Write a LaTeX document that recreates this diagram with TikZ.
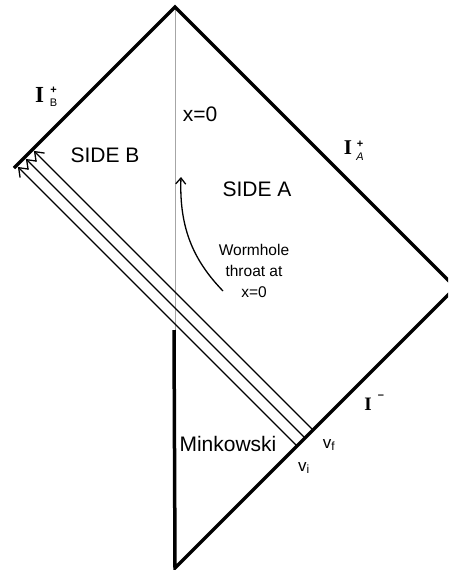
\documentclass[tikz,border=0pt]{standalone}
\usepackage{fontspec}
\setmainfont{Liberation Sans}
\newfontfamily\serifI{Liberation Serif}
\usetikzlibrary{arrows.meta}

\begin{document}
\begin{tikzpicture}[x=1pt, y=-1pt,
      bound/.style={line width=3.5pt, line join=miter},
      ray/.style={line width=1.3pt, shorten >=2pt, -{Straight Barb[length=8pt,width=12pt,line width=1.3pt]}},
      throatline/.style={gray!70, line width=1pt},
      lbl/.style={font=\fontsize{21}{24}\selectfont, inner sep=0pt},
      note/.style={font=\fontsize{15.5}{21}\selectfont, align=center, inner sep=0pt},
      scri/.style={font=\serifI\bfseries\fontsize{23}{23}\selectfont, inner sep=0pt},
      idx/.style={font=\fontsize{11}{13}\selectfont, align=center, inner sep=0pt},
    ]
    \clip (0,0) rectangle (448,570);
    % corners of the diagram
    \coordinate (top) at (175,7);
    \coordinate (left) at (14,168);
    \coordinate (right) at (455.5,287.5);
    \coordinate (bottom) at (175,568);
    \coordinate (mouth) at (174,330);
    \coordinate (throattop) at (175,7);
    \coordinate (throatend) at (175,330);
    % null rays: start on I^-, end on I^+_B
    \coordinate (vi) at (297,446);
    \coordinate (vm) at (305,438);
    \coordinate (vf) at (313,430);
    \coordinate (ei) at (16.5,165.5);
    \coordinate (em) at (24.5,157.5);
    \coordinate (ef) at (32.5,149.5);
    % boundary and throat
    \draw [throatline] (throattop) -- (throatend);
    \draw [bound] (left) -- (top) -- (right) -- (bottom) -- (mouth);
    \draw [ray] (vi) -- (ei);
    \draw [ray] (vm) -- (em);
    \draw [ray] (vf) -- (ef);
    % scri labels
    \node [scri] (ib) at (39.5,95) {I};
    \node [idx] (ibidx) at (53.5,97) {\textbf{+}\\B};
    \node [scri, font=\serifI\bfseries\fontsize{21}{21}\selectfont] (ia) at (348,147.5) {I};
    \node [idx] (iaidx) at (360,150.5) {\textbf{+}\\\textit{A}};
    \node [scri, font=\serifI\bfseries\fontsize{19}{19}\selectfont] (im) at (368,404.5) {I};
    \node [idx] (imsup) at (381,397) {\textbf{–}};
    % region labels
    \node [lbl] (xzero) at (200,114) {x=0};
    \node [lbl] (sideb) at (105,155) {SIDE B};
    \node [lbl] (sidea) at (257,189) {SIDE A};
    \node [lbl] (mink) at (228,444) {Minkowski};
    \node [lbl, font=\fontsize{17}{20}\selectfont] (vilbl) at (304,468) {v\textsubscript{i}};
    \node [lbl, font=\fontsize{17}{20}\selectfont] (vflbl) at (329,445) {v\textsubscript{f}};
    \node [note] (worm) at (254,271) {Wormhole\\throat at\\x=0};
    % arrow pointing at the throat
    \coordinate (wstart) at (223,291);
    \coordinate (wtip) at (181,177);
    \draw [line width=1.3pt, -{Straight Barb[length=6pt,width=10pt,line width=1.3pt]}]
      (wstart) .. controls (195,262) and (179,230) .. (wtip);
\end{tikzpicture}
\end{document}
